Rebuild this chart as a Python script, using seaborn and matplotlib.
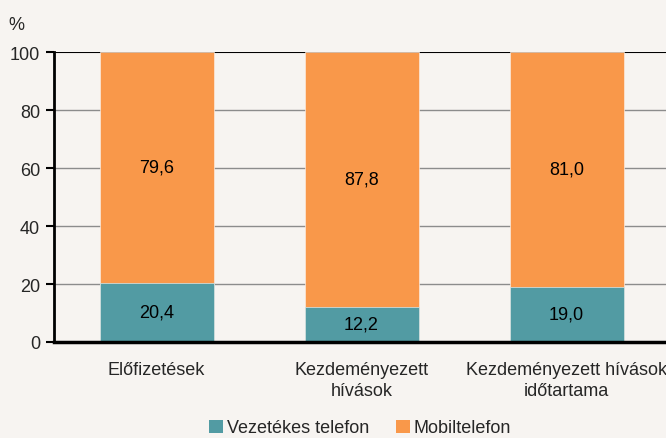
import matplotlib
matplotlib.use("Agg")
import matplotlib.pyplot as plt
import seaborn as sns
import pandas as pd
from matplotlib.patches import Patch

categories = ["Előfizetések", "Kezdeményezett\nhívások", "Kezdeményezett hívások\nidőtartama"]
vezetekes = [20.4, 12.2, 19.0]
mobil = [79.6, 87.8, 81.0]
yticks = [0, 20, 40, 60, 80, 100]

teal = "#529ba3"
orange = "#f9984a"
bg = "#f7f4f1"

sns.set_theme(style="white")
plt.rcParams["font.family"] = ["Liberation Sans", "DejaVu Sans"]

df = pd.DataFrame({"cat": categories, "vez": vezetekes, "mob": mobil})
df["total"] = df["vez"] + df["mob"]

fig = plt.figure(figsize=(6.66, 4.39), dpi=100, facecolor=bg)
ax = fig.add_axes([54/666, 1-343/439, 1-54/666, (343-53)/439])
ax.set_facecolor(bg)

for y in [20, 40, 60, 80]:
    ax.axhline(y, color="#8c8c8c", lw=1.0, zorder=0)

sns.barplot(data=df, x="cat", y="total", color=orange, width=0.556, ax=ax,
            saturation=1, edgecolor="#fbe9dc", linewidth=0.5, zorder=2)
sns.barplot(data=df, x="cat", y="vez", color=teal, width=0.556, ax=ax,
            saturation=1, edgecolor="#d9e8ea", linewidth=0.5, zorder=3)

ax.axhline(100, color="black", lw=1.5, zorder=1)

for i, (v, m) in enumerate(zip(vezetekes, mobil)):
    ax.text(i, v / 2, f"{v:.1f}".replace(".", ","), ha="center", va="center",
            fontsize=13, color="black", zorder=5)
    ax.text(i, v + m / 2, f"{m:.1f}".replace(".", ","), ha="center", va="center",
            fontsize=13, color="black", zorder=5)

ax.set_ylim(0, 100)
ax.set_xlim(-0.5, 2.485)
ax.set_yticks(yticks)
ax.set_yticklabels([str(t) for t in yticks], fontsize=13)
ax.set_xticks(range(len(categories)))
ax.set_xticklabels(categories, fontsize=13, linespacing=1.3)
ax.set_xlabel("")
ax.set_ylabel("")
ax.tick_params(axis="y", left=True, length=6, width=1.5, color="black", pad=4)
ax.tick_params(axis="x", bottom=False, pad=8)

for s in ["top", "right"]:
    ax.spines[s].set_visible(False)
ax.spines["left"].set_color("black")
ax.spines["left"].set_linewidth(2)
ax.spines["bottom"].set_color("black")
ax.spines["bottom"].set_linewidth(2.5)
ax.spines["bottom"].set_zorder(6)

fig.text(8/666, 1-26/439, "%", fontsize=13, va="center", ha="left")

handles = [Patch(facecolor=teal, edgecolor="none", label="Vezetékes telefon"),
           Patch(facecolor=orange, edgecolor="none", label="Mobiltelefon")]
fig.legend(handles=handles, loc="center", bbox_to_anchor=(360/666, 1-429/439),
           ncol=2, frameon=False, fontsize=13, handlelength=0.75, handleheight=0.75,
           handletextpad=0.2, columnspacing=1.5, borderaxespad=0)

fig.savefig("out.png", dpi=100, facecolor=bg)
